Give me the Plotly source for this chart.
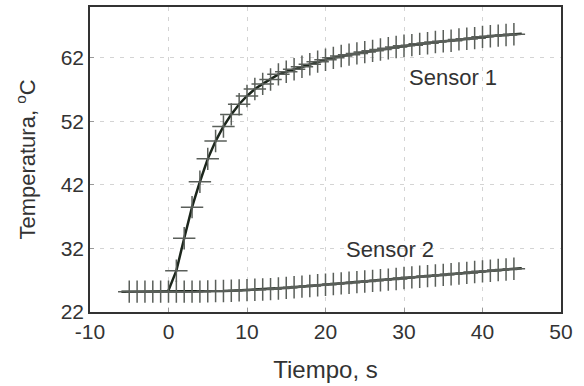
import plotly.graph_objects as go

# Sensor 1 (t = 0..45 s)
t1 = list(range(0, 46))
s1 = [25.4, 28.5, 33.6, 38.5, 42.5, 46.1, 48.9, 51.2, 53.1, 54.7,
      56.0, 57.1, 57.9, 58.6, 59.4, 59.8, 60.2, 60.6, 61.0, 61.4,
      61.7, 62.0, 62.3, 62.5, 62.7, 62.9, 63.1, 63.3, 63.5, 63.7,
      63.9, 64.0, 64.2, 64.3, 64.5, 64.6, 64.7, 64.9, 65.0, 65.1,
      65.3, 65.4, 65.5, 65.6, 65.7, 65.8]

# Sensor 2 (t = -6..45 s)
t2 = list(range(-6, 46))
s2 = [25.2, 25.2, 25.2, 25.2, 25.2, 25.2, 25.2, 25.2, 25.2, 25.2,
      25.2, 25.25, 25.3, 25.3, 25.35, 25.4, 25.45, 25.5, 25.55, 25.6,
      25.7, 25.8, 25.9, 26.0, 26.1, 26.2, 26.3, 26.4, 26.5, 26.6,
      26.7, 26.8, 26.9, 27.0, 27.1, 27.2, 27.35, 27.45, 27.55, 27.65,
      27.75, 27.85, 27.95, 28.05, 28.15, 28.3, 28.4, 28.5, 28.6, 28.7,
      28.8, 28.9]

x_ticks = [-10, 0, 10, 20, 30, 40, 50]
x_labels = ["-10", "0", "10", "20", "30", "40", "50"]
y_ticks = [22, 32, 42, 52, 62]
y_labels = ["22", "32", "42", "52", "62"]

FONT = "Arial, Liberation Sans, sans-serif"
LINE_COLOR = "#1c261c"
MARK_COLOR = "#5a5f5a"
TEXT_COLOR = "#333"

fig = go.Figure()

for t, s in ((t1, s1), (t2, s2)):
    fig.add_trace(go.Scatter(x=t, y=s, mode="lines",
                             line=dict(color=LINE_COLOR, width=2.5),
                             showlegend=False, hoverinfo="skip"))
    # markers exclude the outer fitted line ends
    mt = t[1:-1]
    ms = s[1:-1]
    fig.add_trace(go.Scatter(x=mt, y=ms, mode="markers",
                             marker=dict(symbol="cross-thin", size=16,
                                         line=dict(color=MARK_COLOR, width=1.5)),
                             showlegend=False))

fig.add_annotation(x=36.3, y=58.85, text="Sensor 1", showarrow=False,
                   font=dict(family=FONT, size=22, color=TEXT_COLOR))
fig.add_annotation(x=28.2, y=31.8, text="Sensor 2", showarrow=False,
                   font=dict(family=FONT, size=22, color=TEXT_COLOR))

fig.update_layout(
    width=584, height=386,
    margin=dict(l=90, r=23, t=7, b=74, autoexpand=False),
    paper_bgcolor="white", plot_bgcolor="white",
    font=dict(family=FONT, size=20, color=TEXT_COLOR),
    showlegend=False,
)
axis_common = dict(showgrid=True, gridcolor="#d4d4d4", griddash="4px,6px", gridwidth=1,
                   showline=True, linecolor="#333", linewidth=1.5, mirror=True,
                   zeroline=False, ticks="inside", ticklen=4, tickcolor="#999",
                   tickfont=dict(size=21, color=TEXT_COLOR), automargin=False)
fig.update_xaxes(range=[-10, 50], tickvals=x_ticks, ticktext=x_labels,
                 title=dict(text="Tiempo, s", font=dict(size=24, color=TEXT_COLOR), standoff=19),
                 **axis_common)
fig.update_yaxes(range=[22, 70], tickvals=y_ticks, ticktext=y_labels,
                 title=dict(text="Temperatura, <sup>o</sup>C", font=dict(size=22, color=TEXT_COLOR), standoff=19),
                 **axis_common)

fig.write_html("out.html",
               config={"displayModeBar": False},
               post_script="document.body.style.margin='0';document.body.style.overflow='hidden';")
